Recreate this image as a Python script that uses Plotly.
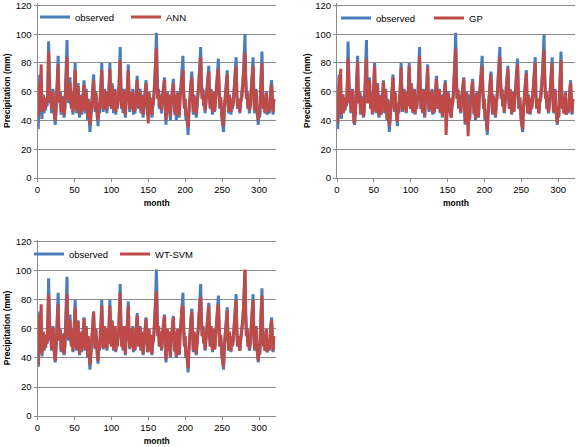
import plotly.graph_objects as go

# ---- data (monthly precipitation, mm) ----
observed = [
    34, 48, 72, 62, 44, 41, 52, 58, 45, 56, 47, 55,
    50, 62, 95, 70, 52, 60, 45, 55, 62, 48, 40, 37,
    45, 58, 68, 85, 55, 52, 60, 44, 50, 57, 46, 42,
    48, 60, 72, 96, 58, 52, 62, 70, 55, 48, 60, 44,
    52, 62, 80, 58, 45, 55, 66, 50, 42, 58, 48, 44,
    50, 58, 68, 55, 45, 62, 48, 40, 55, 45, 32, 40,
    50, 58, 62, 72, 55, 46, 60, 48, 40, 36, 52, 45,
    55, 62, 80, 58, 46, 52, 62, 48, 55, 45, 60, 50,
    62, 80, 60, 48, 66, 52, 45, 58, 62, 44, 54, 48,
    52, 60, 75, 91, 62, 48, 58, 45, 62, 50, 42, 55,
    58, 66, 79, 55, 46, 60, 48, 52, 62, 44, 50, 45,
    55, 60, 71, 58, 48, 55, 62, 45, 50, 58, 42, 48,
    56, 62, 68, 55, 44, 52, 60, 45, 56, 48, 42, 50,
    52, 60, 70, 82, 101, 65, 55, 62, 48, 58, 52, 45,
    55, 62, 68, 70, 50, 37, 52, 60, 45, 58, 48, 40,
    52, 58, 62, 69, 55, 44, 58, 40, 50, 60, 46, 42,
    55, 62, 70, 78, 85, 60, 48, 55, 40, 45, 35, 30,
    45, 55, 62, 68, 74, 52, 44, 58, 48, 56, 42, 50,
    55, 62, 72, 80, 91, 68, 55, 62, 50, 58, 45, 52,
    58, 65, 70, 78, 56, 48, 62, 50, 44, 55, 60, 46,
    55, 62, 70, 75, 83, 58, 48, 56, 45, 40, 36, 32,
    48, 56, 62, 70, 75, 52, 45, 58, 50, 44, 55, 48,
    52, 60, 66, 72, 84, 58, 48, 55, 50, 45, 52, 56,
    58, 66, 75, 85, 100, 70, 55, 60, 48, 52, 45, 50,
    58, 66, 75, 84, 56, 45, 55, 62, 48, 40, 37, 50,
    42, 60, 70, 88, 58, 48, 55, 45, 52, 60, 44, 50,
    52, 45, 58, 62, 68, 50, 44, 55,
]

ann = [
    42, 50, 66, 60, 79, 46, 50, 57, 47, 54, 49, 55,
    52, 63, 88, 68, 54, 58, 48, 55, 60, 50, 43, 40,
    47, 58, 66, 79, 56, 53, 58, 46, 51, 56, 47, 44,
    49, 60, 70, 84, 58, 54, 61, 66, 55, 49, 58, 46,
    52, 61, 75, 57, 47, 55, 64, 51, 44, 57, 49, 46,
    51, 58, 65, 55, 47, 60, 49, 42, 54, 46, 37, 42,
    51, 58, 61, 68, 55, 48, 59, 49, 42, 40, 52, 47,
    55, 61, 75, 57, 48, 53, 61, 49, 55, 47, 59, 51,
    61, 76, 59, 49, 64, 53, 47, 57, 61, 46, 54, 49,
    52, 59, 72, 82, 61, 49, 57, 47, 61, 51, 44, 55,
    57, 64, 75, 55, 48, 59, 49, 52, 60, 46, 51, 47,
    55, 59, 68, 57, 49, 55, 60, 47, 51, 57, 44, 49,
    55, 61, 66, 55, 46, 38, 59, 46, 55, 48, 44, 50,
    53, 60, 68, 78, 90, 64, 55, 60, 50, 57, 52, 47,
    55, 61, 66, 68, 51, 40, 52, 59, 47, 57, 49, 43,
    52, 58, 61, 66, 55, 46, 57, 43, 51, 59, 47, 44,
    55, 61, 68, 73, 75, 59, 49, 55, 43, 46, 38, 35,
    46, 55, 61, 66, 70, 53, 46, 57, 49, 55, 44, 50,
    55, 61, 70, 77, 84, 66, 55, 61, 51, 57, 47, 52,
    57, 63, 68, 74, 56, 49, 61, 51, 46, 55, 59, 47,
    55, 61, 68, 72, 76, 57, 49, 56, 46, 42, 39, 36,
    49, 56, 61, 68, 72, 53, 46, 57, 51, 46, 55, 49,
    52, 59, 65, 70, 78, 57, 49, 55, 51, 46, 52, 55,
    57, 64, 72, 80, 87, 68, 55, 59, 49, 52, 47, 50,
    57, 64, 72, 78, 56, 47, 55, 61, 49, 42, 40, 50,
    44, 59, 68, 80, 57, 49, 55, 46, 52, 59, 45, 50,
    52, 47, 57, 61, 65, 51, 46, 55,
]

gp = [
    38, 52, 70, 62, 76, 44, 51, 58, 46, 55, 48, 56,
    51, 62, 83, 69, 53, 59, 46, 54, 61, 49, 38, 42,
    46, 57, 67, 81, 55, 52, 59, 45, 50, 56, 46, 43,
    48, 59, 71, 83, 57, 52, 61, 68, 54, 48, 59, 45,
    51, 61, 78, 57, 46, 55, 65, 50, 43, 57, 48, 45,
    50, 57, 67, 55, 46, 61, 48, 41, 54, 45, 36, 41,
    51, 59, 62, 70, 55, 47, 59, 48, 41, 39, 52, 46,
    55, 61, 77, 57, 47, 52, 61, 48, 55, 46, 59, 50,
    61, 78, 59, 48, 65, 52, 46, 57, 61, 45, 53, 48,
    52, 59, 73, 85, 61, 48, 57, 46, 61, 50, 43, 55,
    57, 65, 77, 55, 47, 59, 48, 52, 61, 45, 50, 46,
    55, 59, 69, 57, 48, 55, 61, 46, 50, 57, 43, 48,
    55, 61, 66, 30, 45, 52, 59, 46, 55, 47, 42, 50,
    52, 59, 69, 80, 90, 64, 55, 61, 49, 57, 51, 46,
    54, 61, 67, 69, 50, 38, 52, 59, 46, 29, 48, 41,
    52, 58, 62, 67, 55, 45, 57, 41, 50, 59, 46, 43,
    55, 61, 69, 76, 78, 60, 48, 55, 41, 45, 36, 33,
    45, 55, 61, 67, 72, 52, 45, 57, 48, 55, 43, 50,
    55, 61, 71, 78, 84, 67, 55, 61, 50, 57, 46, 52,
    57, 64, 69, 76, 56, 48, 61, 50, 45, 55, 59, 46,
    55, 61, 69, 73, 79, 57, 48, 56, 45, 41, 37, 34,
    48, 56, 61, 69, 73, 52, 45, 57, 50, 45, 55, 48,
    52, 59, 65, 71, 80, 57, 48, 55, 50, 45, 52, 55,
    57, 65, 73, 82, 89, 69, 55, 60, 48, 52, 46, 50,
    57, 65, 73, 80, 56, 46, 55, 61, 48, 41, 38, 50,
    43, 59, 69, 82, 57, 48, 55, 45, 52, 59, 44, 50,
    52, 46, 57, 61, 66, 50, 45, 55,
]

wtsvm = [
    35, 50, 70, 62, 77, 43, 51, 58, 46, 55, 48, 56,
    50, 62, 84, 69, 53, 59, 46, 55, 61, 49, 41, 38,
    46, 58, 68, 77, 55, 52, 59, 45, 50, 56, 46, 43,
    48, 60, 72, 84, 58, 54, 62, 66, 55, 48, 59, 45,
    52, 61, 75, 58, 46, 55, 65, 50, 43, 58, 48, 45,
    50, 58, 67, 55, 46, 61, 48, 41, 55, 45, 35, 41,
    51, 59, 62, 72, 55, 47, 60, 48, 41, 38, 52, 46,
    55, 62, 76, 58, 47, 52, 62, 48, 55, 46, 60, 50,
    62, 76, 60, 48, 65, 52, 46, 58, 62, 45, 54, 48,
    52, 60, 73, 85, 62, 48, 58, 46, 62, 50, 43, 55,
    58, 65, 76, 55, 47, 60, 48, 52, 61, 45, 50, 46,
    55, 60, 69, 58, 48, 55, 61, 46, 50, 58, 43, 48,
    56, 61, 67, 55, 45, 44, 60, 45, 56, 48, 43, 50,
    52, 60, 69, 80, 86, 65, 55, 62, 48, 58, 52, 46,
    55, 62, 67, 69, 50, 39, 52, 60, 45, 58, 48, 41,
    52, 58, 62, 68, 55, 45, 58, 41, 50, 60, 46, 43,
    55, 62, 70, 76, 75, 60, 48, 55, 41, 45, 37, 33,
    45, 55, 62, 67, 72, 52, 45, 58, 48, 56, 43, 50,
    55, 62, 71, 78, 82, 68, 55, 62, 50, 58, 46, 52,
    58, 65, 70, 76, 56, 48, 62, 50, 45, 55, 60, 46,
    55, 62, 70, 74, 77, 58, 48, 56, 45, 41, 37, 34,
    48, 56, 62, 69, 73, 52, 45, 58, 50, 45, 55, 48,
    52, 60, 66, 71, 80, 58, 48, 55, 50, 45, 52, 56,
    58, 66, 75, 85, 101, 70, 55, 60, 48, 52, 46, 50,
    58, 66, 75, 80, 56, 46, 55, 62, 48, 41, 38, 50,
    43, 60, 70, 83, 58, 48, 55, 45, 52, 60, 44, 50,
    52, 46, 58, 62, 66, 50, 45, 55,
]

model_names = ["ANN", "GP", "WT-SVM"]
models = [ann, gp, wtsvm]
x_ticks = [0, 50, 100, 150, 200, 250, 300]
y_ticks = [0, 20, 40, 60, 80, 100, 120]

BLUE = "#4A7EBB"
RED = "#BE4B48"
GRID = "#8C8C8C"
FONT = "Liberation Sans, Arial, sans-serif"

W, H = 576, 447

def fx(p):
    return p / W

def fy(p):
    return 1 - p / H

fig = go.Figure()

panels = [
    dict(xa="x", ya="y", leg="legend"),
    dict(xa="x2", ya="y2", leg="legend2"),
    dict(xa="x3", ya="y3", leg="legend3"),
]

for i, (name, vals) in enumerate(zip(model_names, models)):
    p = panels[i]
    fig.add_trace(go.Scatter(
        x=list(range(1, len(observed) + 1)), y=observed, mode="lines",
        name="observed", line=dict(color=BLUE, width=3),
        xaxis=p["xa"], yaxis=p["ya"], legend=p["leg"]))
    fig.add_trace(go.Scatter(
        x=list(range(1, len(vals) + 1)), y=vals, mode="lines",
        name=name, line=dict(color=RED, width=3),
        xaxis=p["xa"], yaxis=p["ya"], legend=p["leg"]))

def xaxis(domain, anchor):
    return dict(
        domain=domain, anchor=anchor, range=[0, 323], automargin=False,
        tickvals=x_ticks, ticktext=[str(v) for v in x_ticks],
        showgrid=False, zeroline=False, showline=True, linecolor=GRID, linewidth=1,
        ticks="outside", ticklen=3, tickcolor=GRID, ticklabeloverflow="allow",
        tickfont=dict(family=FONT, size=9.5, color="#000000"),
        title=dict(text="<b>month</b>", font=dict(family=FONT, size=8.5, color="#000000"),
                   standoff=5),
    )

def yaxis(domain, anchor):
    return dict(
        domain=domain, anchor=anchor, range=[0, 121.5], automargin=False,
        tickvals=y_ticks, ticktext=[str(v) for v in y_ticks],
        showgrid=True, gridcolor=GRID, gridwidth=1, zeroline=False,
        showline=True, linecolor=GRID, linewidth=1,
        ticks="outside", ticklen=3, tickcolor=GRID, ticklabeloverflow="allow",
        tickfont=dict(family=FONT, size=9.5, color="#000000"),
        title=dict(text="<b>Precipitation (mm)</b>",
                   font=dict(family=FONT, size=8.5, color="#000000"), standoff=3),
    )

top = [fy(178), fy(3.3)]
bot = [fy(416), fy(239.8)]
left = [fx(37.5), fx(276)]
right = [fx(337), fx(575)]

def legend(xpx, ypx, ew):
    return dict(
        orientation="h", x=fx(xpx), y=fy(ypx), xanchor="left", yanchor="middle",
        bgcolor="rgba(0,0,0,0)", borderwidth=0, itemwidth=30,
        entrywidth=ew, entrywidthmode="pixels",
        font=dict(family=FONT, size=9.5, color="#000000"),
    )

fig.update_layout(
    width=W, height=H, margin=dict(l=0, r=0, t=0, b=0),
    paper_bgcolor="white", plot_bgcolor="white",
    showlegend=True, hovermode=False,
    xaxis=xaxis(left, "y"), yaxis=yaxis(top, "x"),
    xaxis2=xaxis(right, "y2"), yaxis2=yaxis(top, "x2"),
    xaxis3=xaxis(left, "y3"), yaxis3=yaxis(bot, "x3"),
    legend=legend(35, 17, 46),
    legend2=legend(336, 18, 48),
    legend3=legend(29, 254, 41),
)

fig.write_html("out.html", config={"displayModeBar": False},
               post_script="document.body.style.margin='0';")
